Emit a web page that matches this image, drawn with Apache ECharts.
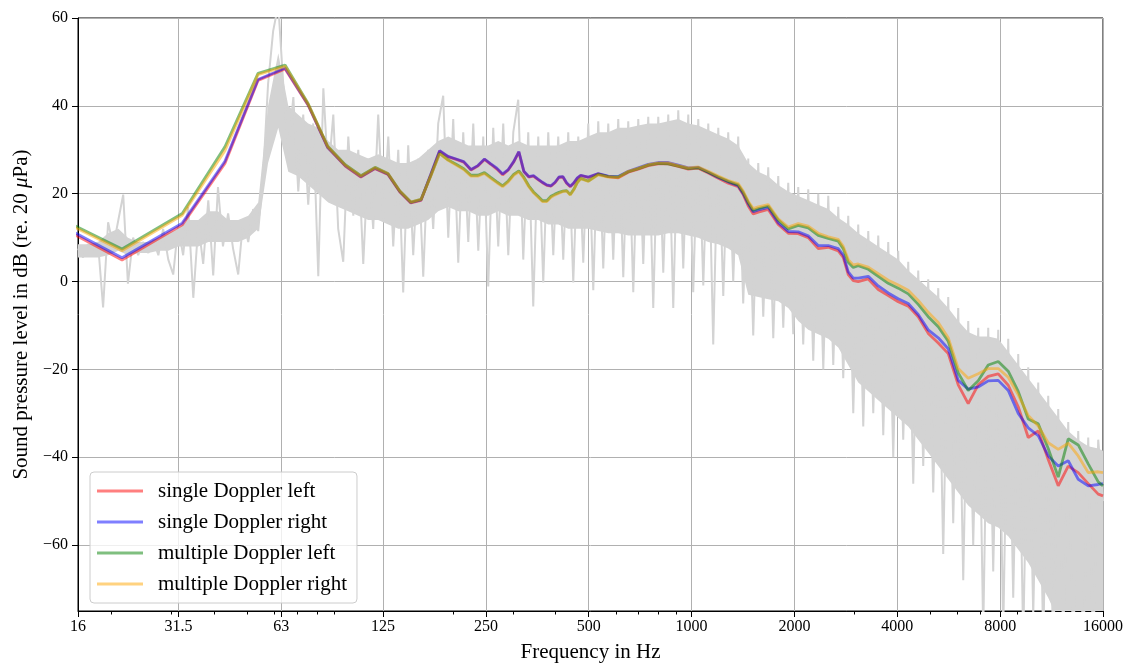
<!DOCTYPE html>
<html>
<head>
<meta charset="utf-8">
<title>Sound pressure level spectrum</title>
<script src="https://cdn.jsdelivr.net/npm/echarts@6/dist/echarts.min.js"></script>
<style>
  html, body { margin: 0; padding: 0; background: #fff; }
  #chart { width: 1132px; height: 663px; }
</style>
</head>
<body>
<div id="chart"></div>
<script>
// axis ticks
const octaveTicks = [16, 31.5, 63, 125, 250, 500, 1000, 2000, 4000, 8000, 16000];
const minorTicks = [20, 30, 40, 50, 60, 70, 80, 90, 200, 300, 400, 500, 600, 700, 800, 900,
  2000, 3000, 4000, 5000, 6000, 7000, 8000, 9000];
const levelTicks = [-60, -40, -20, 0, 20, 40, 60];

const lineHz = [
  10.77, 21.53, 32.30, 43.07, 53.83, 64.60, 75.37, 86.13, 96.90, 107.67,
  118.43, 129.20, 139.97, 150.73, 161.50, 172.27, 183.03, 193.80, 204.57, 215.33,
  226.10, 236.87, 247.63, 258.40, 269.17, 279.93, 290.70, 301.47, 312.23, 323.00,
  333.77, 344.53, 355.30, 366.07, 376.83, 387.60, 398.37, 409.13, 419.90, 430.66,
  441.43, 452.20, 462.96, 473.73,
  498.4, 533.1, 570.3, 610.0, 652.6, 698.1, 746.7, 798.8, 854.5, 914.1,
  977.8, 1046, 1119, 1197, 1280, 1369, 1416, 1465, 1515, 1567,
  1676, 1793, 1918, 2052, 2195, 2348, 2512, 2687, 2779, 2874,
  2973, 3074, 3289, 3518, 3763, 4025, 4306, 4606, 4927, 5271,
  5638, 6031, 6451, 6901, 7382, 7897, 8448, 9037, 9667, 10340,
  11061, 11832, 12657, 13539, 14483, 15493, 16000
];
const singleLeft = [
  17.4, 4.9, 12.9, 26.9, 45.8, 48.4, 40.2, 30.5, 26.3, 23.8,
  25.7, 24.4, 20.4, 17.9, 18.5, 24.2, 29.7, 28.4, 27.8, 27.2,
  25.4, 26.3, 27.8, 26.7, 25.6, 24.3, 25.4, 27.2, 29.5, 25.0,
  23.8, 24.0, 23.2, 22.5, 21.9, 21.7, 22.5, 23.7, 23.8, 22.4,
  21.6, 22.4, 23.5, 24.1,
  23.7, 24.5, 23.9, 23.6, 24.9, 25.6, 26.4, 26.8, 26.8, 26.2,
  25.6, 25.8, 24.7, 23.5, 22.4, 21.6, 19.8, 17.2, 15.4, 15.8,
  16.4, 13.0, 11.0, 10.9, 10.0, 7.5, 7.8, 7.0, 5.5, 1.6,
  0.2, 0.0, 0.6, -1.8, -3.2, -4.6, -5.6, -8.0, -11.8, -14.0,
  -16.4, -23.5, -27.8, -23.5, -21.6, -21.0, -23.6, -28.5, -35.5, -34.0,
  -40.5, -46.5, -42.0, -43.5, -46.0, -48.4, -48.8
];
const singleRight = [
  17.8, 5.4, 13.3, 27.4, 46.0, 48.6, 40.3, 30.5, 26.4, 23.9,
  25.8, 24.5, 20.5, 18.0, 18.6, 24.3, 29.8, 28.5, 27.9, 27.3,
  25.5, 26.4, 27.9, 26.8, 25.8, 24.5, 25.5, 27.3, 29.6, 25.1,
  23.9, 24.1, 23.3, 22.6, 22.0, 21.8, 22.6, 23.8, 23.9, 22.5,
  21.7, 22.5, 23.6, 24.2,
  23.8, 24.6, 24.0, 23.9, 25.1, 25.9, 26.7, 27.1, 27.1, 26.5,
  25.9, 26.0, 24.9, 23.7, 22.7, 21.8, 20.0, 17.7, 15.9, 16.3,
  16.9, 13.4, 11.4, 11.3, 10.4, 8.2, 8.2, 7.5, 6.0, 2.2,
  0.8, 0.8, 1.2, -1.0, -2.6, -3.9, -5.0, -7.5, -11.0, -12.8,
  -15.3, -22.5, -24.5, -24.0, -22.6, -22.5, -24.8, -30.0, -33.3, -35.1,
  -39.7, -42.0, -40.8, -45.0, -46.5, -46.2, -46.0
];
const multiLeft = [
  18.9, 7.4, 15.5, 30.7, 47.4, 49.3, 40.6, 30.8, 26.6, 24.1,
  26.0, 24.6, 20.6, 18.1, 18.7, 24.0, 29.2, 27.7, 26.7, 25.7,
  24.2, 24.2, 24.8, 23.7, 22.7, 21.8, 22.9, 24.4, 25.2, 23.7,
  21.8, 20.4, 19.4, 18.4, 18.4, 19.4, 19.9, 20.3, 20.6, 20.7,
  19.8, 21.0, 22.6, 23.5,
  22.9, 24.4, 23.9, 23.8, 25.0, 25.7, 26.5, 26.9, 26.8, 26.3,
  25.7, 25.9, 24.9, 23.8, 22.8, 22.0, 20.3, 18.0, 16.2, 16.6,
  17.2, 14.0, 12.0, 12.8, 12.2, 10.5, 9.8, 9.2, 7.5, 4.4,
  3.2, 3.6, 2.8, 1.2, -0.4, -1.5, -2.8, -5.2, -8.0, -10.3,
  -13.6, -20.8, -24.8, -22.6, -19.0, -18.2, -20.4, -25.0, -31.3, -32.4,
  -38.0, -44.5, -35.8, -37.2, -41.5, -45.6, -46.5
];
const multiRight = [
  18.6, 7.0, 15.1, 29.8, 47.1, 49.0, 40.5, 30.7, 26.5, 24.0,
  25.9, 24.6, 20.6, 18.1, 18.7, 24.0, 29.1, 27.6, 26.5, 25.5,
  24.0, 24.0, 24.6, 23.5, 22.5, 21.6, 22.7, 24.2, 25.0, 23.5,
  21.6, 20.2, 19.2, 18.2, 18.2, 19.2, 19.7, 20.1, 20.5, 20.6,
  19.7, 20.9, 22.5, 23.4,
  22.8, 24.3, 23.8, 23.7, 25.1, 25.8, 26.6, 27.0, 27.0, 26.4,
  25.9, 26.1, 25.1, 24.0, 23.0, 22.3, 20.6, 18.3, 16.6, 17.0,
  17.5, 14.3, 12.4, 13.2, 12.6, 11.0, 10.2, 9.6, 8.0, 5.0,
  3.8, 4.0, 3.3, 1.8, 0.3, -0.8, -2.0, -4.3, -7.0, -9.3,
  -12.8, -19.8, -22.0, -21.0, -19.8, -19.8, -21.8, -25.8, -30.5, -32.9,
  -36.7, -38.2, -36.8, -39.7, -43.5, -43.3, -43.5
];

// raw (unsmoothed) spectrum, grey: peaks and dips read along the axis
const greyHz = [
  16.0, 16.55, 17.1, 17.7, 18.3, 18.95, 19.6, 20.3, 21.0, 21.7,
  22.4, 23.2, 24.0, 24.8, 25.7, 26.6, 27.5, 28.4, 29.4, 30.4,
  31.4, 32.5, 33.6, 34.8, 36.0, 37.2, 38.5, 39.8, 41.1, 42.5,
  44.0, 45.5, 47.1, 48.7, 50.4, 52.1, 53.9, 55.7, 57.6, 59.6,
  61.7, 63.8, 66.0, 68.3, 70.6, 73.0, 75.5, 78.1, 80.8, 83.6,
  86.4, 89.4, 92.4, 95.6, 98.9, 102.3, 105.8, 109.4, 113.1, 117.0,
  121.0, 125.2, 129.5, 133.9, 138.5, 143.2, 148.1, 153.2, 158.5, 163.9,
  169.5, 175.3, 181.3, 187.5, 194.0, 200.6, 207.5, 214.6, 222.0, 229.6,
  237.5, 245.6, 254.0, 262.7, 271.7, 281.0, 290.7, 300.7, 310.9, 321.6,
  332.6, 344.0, 355.8, 368.0, 380.6, 393.7, 407.1, 421.1, 435.5, 450.5,
  465.9, 481.9, 498.4, 515.5, 533.1, 551.4, 570.3, 589.8, 610.0, 631.0,
  652.6, 675.0, 698.1, 722.0, 746.7, 772.3, 798.8, 826.2, 854.5, 883.8,
  914.1, 945.4, 977.8, 1011, 1046, 1082, 1119, 1157, 1197, 1238,
  1280, 1324, 1369, 1416, 1465, 1515, 1567, 1621, 1676, 1734,
  1793, 1855, 1918, 1984, 2052, 2122, 2195, 2270, 2348, 2429,
  2512, 2598, 2687, 2779, 2874, 2973, 3074, 3180, 3289, 3402,
  3518, 3639, 3763, 3892, 4025, 4163, 4306, 4454, 4606, 4764,
  4927, 5096, 5271, 5451, 5638, 5831, 6031, 6238, 6451, 6672,
  6901, 7138, 7382, 7635, 7897, 8168, 8448, 8737, 9037, 9346,
  9667, 9998, 10340, 10695, 11061, 11440, 11832, 12238, 12657, 13091,
  13539, 14003, 14483, 14979, 15493, 16000
];
const greyLevel = [
  7.5, 5.5, 8.5, 6.0, 9.0, -5.9, 13.5, 8.0, 14.0, 19.8,
  -0.5, 10.0, 6.0, 9.0, 6.5, 9.5, 6.0, 12.0, 5.0, 1.6,
  12.5, 6.0, 17.0, -3.7, 13.0, 4.0, 18.5, 1.4, 21.5, 8.0,
  15.5, 7.5, 1.6, 14.0, 9.0, 16.5, 11.5, 24.0, 45.0, 57.0,
  63.0, 45.0, 30.0, 42.0, 20.5, 38.0, 17.5, 36.0, 1.2, 44.0,
  24.0, 38.0, 12.0, 4.5, 33.0, 15.0, 30.0, 4.0, 28.0, 12.0,
  38.0, 14.0, 33.0, 8.0, 30.0, -2.5, 31.0, 6.0, 28.0, 1.1,
  30.0, 12.0, 36.0, 42.3, 10.0, 37.0, 4.3, 34.0, 9.0, 36.0,
  7.0, 33.0, -1.1, 35.0, 8.0, 36.0, 6.0, 34.0, 41.4, 5.0,
  34.0, -5.7, 33.0, -0.2, 34.0, 6.0, 33.0, 5.0, 34.0, -0.2,
  33.0, 4.3, 36.0, -2.0, 36.5, 3.0, 36.0, 5.0, 37.0, 1.0,
  36.5, -2.4, 37.0, 4.0, 37.5, -6.0, 37.5, 2.0, 38.0, -6.0,
  39.0, 3.0, 38.0, -2.4, 37.0, -0.9, 36.0, -14.3, 35.0, -3.3,
  34.0, 0.0, 33.0, -5.0, 28.0, -12.3, 27.0, -8.0, 26.0, -12.9,
  24.0, -10.5, 22.5, -12.0, 21.5, -14.3, 21.0, -18.0, 20.0, -20.0,
  19.5, -19.0, 17.0, -22.0, 15.0, -30.0, 13.0, -33.0, 11.5, -30.0,
  10.5, -35.0, 9.0, -40.0, 7.0, -36.0, 4.5, -46.0, 2.5, -42.0,
  0.5, -48.0, -1.5, -62.0, -3.5, -55.0, -6.0, -68.0, -9.0, -60.0,
  -10.5, -80.0, -10.5, -66.0, -11.0, -80.0, -13.0, -72.0, -16.5, -82.0,
  -19.5, -76.0, -23.0, -82.0, -26.0, -85.0, -29.0, -82.0, -32.0, -85.0,
  -34.0, -85.0, -35.5, -85.0, -36.0, -50.0
];

// dense core of the raw spectrum (where the grey is solid)
const coreHz = [
  16.0, 17.1, 18.3, 19.6, 21.0, 22.4, 24.0, 25.7, 27.5, 29.4,
  31.4, 33.6, 36.0, 38.5, 41.1, 44.0, 47.1, 50.4, 53.9, 57.6,
  61.7, 66.0, 70.6, 75.5, 80.8, 86.4, 92.4, 98.9, 105.8, 113.1,
  121.0, 129.5, 138.5, 148.1, 158.5, 169.5, 181.3, 194.0, 207.5, 222.0,
  237.5, 254.0, 271.7, 290.7, 310.9, 332.6, 355.8, 380.6, 407.1, 435.5,
  465.9, 498.4, 533.1, 570.3, 610.0, 652.6, 698.1, 746.7, 798.8, 854.5,
  914.1, 977.8, 1046, 1119, 1197, 1280, 1369, 1465, 1567, 1676,
  1793, 1918, 2052, 2195, 2348, 2512, 2687, 2874, 3074, 3289,
  3518, 3763, 4025, 4306, 4606, 4927, 5271, 5638, 6031, 6451,
  6901, 7382, 7897, 8448, 9037, 9667, 10340, 11061, 11832, 12657,
  13539, 14483, 15493, 16000
];
const coreLow = [
  5.5, 5.5, 5.5, 6, 7, 6, 6.5, 6.5, 7, 7,
  8, 8, 8, 9, 9, 9, 9, 10, 12, 27,
  35, 25, 24, 22, 20, 18, 17, 16, 15, 14,
  14, 13, 12, 12, 13, 14, 16, 17, 16, 16,
  15, 15, 16, 15, 15, 14, 14, 13, 13, 12,
  12, 12, 11.5, 11, 11, 10.5, 10.5, 10.5, 10.5, 11,
  11, 10.5, 10, 9, 8.5, 7.5, 6, -3, -3.5, -4,
  -4.5, -6, -9, -11, -12, -13, -15, -19, -23, -25,
  -27, -29, -31, -33, -36, -39, -42, -45, -48, -51,
  -53, -55, -56, -58, -61, -64, -68, -72, -77, -80,
  -80, -80, -80, -80
];
const coreHigh = [
  8.5, 8.5, 9, 11, 12, 10, 9, 9, 10, 11,
  12, 14, 14, 16, 16, 14, 14, 15, 18, 40,
  52, 40, 38, 36, 35, 32, 30, 30, 29, 28,
  29, 28, 27, 27, 28, 30, 32, 33, 32, 31,
  31, 31, 32, 31, 32, 31, 31, 31, 31, 32,
  32, 33, 34, 34, 35, 35, 35.5, 36, 36, 36.5,
  37, 36, 35.5, 34.5, 33.5, 32.5, 31, 27, 25, 24,
  22, 20.5, 19.5, 18.5, 17.5, 16.5, 14.5, 13, 11, 9.5,
  8, 6.5, 5, 2.5, 0.5, -1.5, -3.5, -6, -9, -11.5,
  -12.5, -12.5, -13, -16, -19, -22, -25, -28, -31, -34,
  -36, -37.5, -38, -38.5
];

const FONT = "'Liberation Serif', 'DejaVu Serif', serif";
const GREY = '#d3d3d3';

function pairs(xs, ys) {
  return xs.map((x, i) => [x, ys[i]]);
}
function minus(v) {
  return String(v).replace('-', '\u2212');
}

const chart = echarts.init(document.getElementById('chart'));

function curve(name, data, color) {
  return {
    name: name,
    type: 'line',
    data: pairs(lineHz, data),
    symbol: 'none',
    z: 3,
    lineStyle: { color: color, width: 2.8 },
    itemStyle: { color: color }
  };
}

// solid grey core: polygon between coreHigh and coreLow, placed by the axes
function renderCore(params, api) {
  const top = coreHz.map((f, i) => api.coord([f, coreHigh[i]]));
  const bottom = coreHz.map((f, i) => api.coord([f, coreLow[i]])).reverse();
  return {
    type: 'polygon',
    shape: { points: top.concat(bottom) },
    style: { fill: GREY }
  };
}

const option = {
  animation: false,
  textStyle: { fontFamily: FONT },
  grid: {
    left: 78, right: 29, top: 18, bottom: 52,
    outerBoundsMode: 'none',
    show: true, borderColor: '#000', borderWidth: 1, backgroundColor: 'transparent'
  },
  legend: {
    data: ['single Doppler left', 'single Doppler right', 'multiple Doppler left', 'multiple Doppler right'],
    orient: 'vertical',
    left: 90, top: 472,
    icon: 'rect',
    itemWidth: 46, itemHeight: 3, itemGap: 9,
    padding: [8, 10, 8, 7],
    backgroundColor: 'rgba(255,255,255,0.8)',
    borderColor: '#cccccc', borderWidth: 1, borderRadius: 4,
    textStyle: { fontFamily: FONT, fontSize: 21, color: '#000', lineHeight: 22, padding: [0, 0, 0, 10] }
  },
  xAxis: [
    {
      type: 'log', min: 16, max: 16000,
      name: 'Frequency in Hz', nameLocation: 'middle', nameGap: 31,
      nameTextStyle: { fontFamily: FONT, fontSize: 21, color: '#000' },
      axisLine: { show: true, onZero: false, lineStyle: { color: '#000', width: 1 } },
      axisTick: { show: true, customValues: octaveTicks, length: 6, lineStyle: { color: '#000' } },
      axisLabel: {
        customValues: octaveTicks, color: '#000', fontSize: 16, margin: 8,
        formatter: v => String(+(+v).toPrecision(6))
      },
      splitLine: { show: true, lineStyle: { color: '#b0b0b0', width: 1 } }
    },
    {
      type: 'log', min: 16, max: 16000, position: 'bottom',
      axisLine: { show: false, onZero: false },
      axisTick: { show: true, customValues: minorTicks, length: 3.5, lineStyle: { color: '#000' } },
      axisLabel: { show: false },
      splitLine: { show: false }
    }
  ],
  yAxis: {
    type: 'value', min: -75, max: 60,
    name: 'Sound pressure level in dB (re. 20 {i|\u03bc}Pa)',
    nameLocation: 'middle', nameGap: 46,
    nameTextStyle: {
      fontFamily: FONT, fontSize: 21, color: '#000',
      rich: { i: { fontFamily: FONT, fontSize: 21, fontStyle: 'italic', color: '#000' } }
    },
    axisLine: { show: true, lineStyle: { color: '#000', width: 1 } },
    axisTick: { show: true, customValues: levelTicks, length: 6, lineStyle: { color: '#000' } },
    axisLabel: { customValues: levelTicks, color: '#000', fontSize: 16, margin: 10, formatter: minus },
    splitLine: { show: true, lineStyle: { color: '#b0b0b0', width: 1 } }
  },
  series: [
    {
      name: 'core',
      type: 'custom',
      coordinateSystem: 'cartesian2d',
      clip: true,
      silent: true,
      z: 1,
      data: [[1000, 0]],
      renderItem: renderCore
    },
    {
      name: 'raw',
      type: 'line',
      data: pairs(greyHz, greyLevel),
      symbol: 'none', silent: true, z: 2,
      lineStyle: { color: GREY, width: 2 }
    },
    curve('single Doppler left', singleLeft, 'rgba(255,0,0,0.5)'),
    curve('single Doppler right', singleRight, 'rgba(0,0,255,0.5)'),
    curve('multiple Doppler left', multiLeft, 'rgba(0,128,0,0.5)'),
    curve('multiple Doppler right', multiRight, 'rgba(255,165,0,0.5)')
  ]
};

chart.setOption(option);
</script>
</body>
</html>
